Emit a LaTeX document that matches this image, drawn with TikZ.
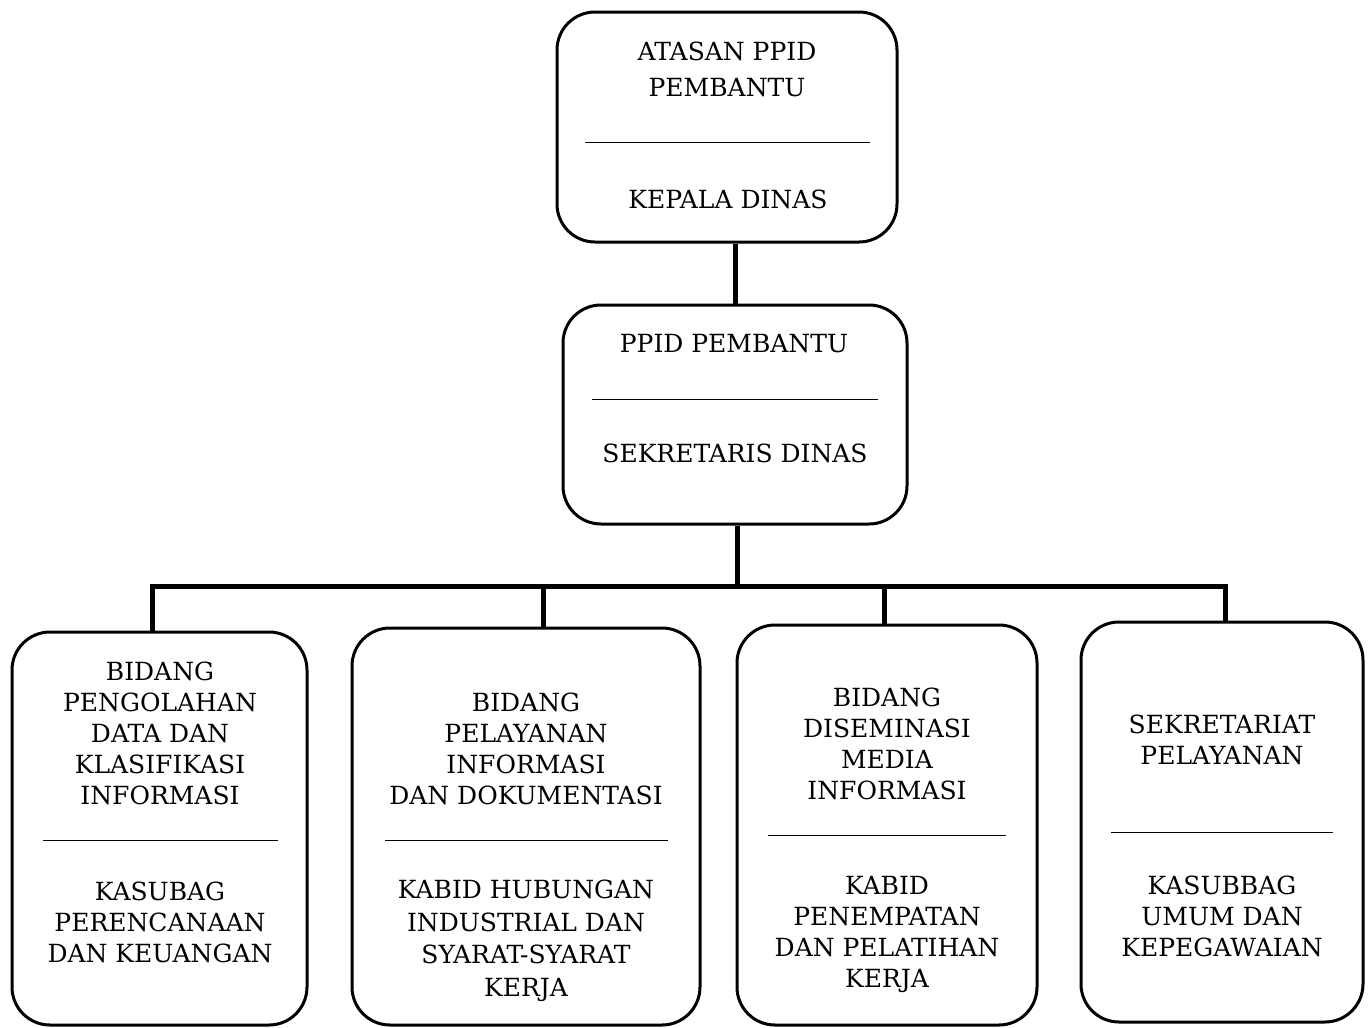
\documentclass[tikz,border=0pt]{standalone}
\usepackage{fontspec}
\setmainfont{DejaVu Serif}
\begin{document}
\begin{tikzpicture}[x=1pt,y=-1pt,
  box/.style={draw, line width=3pt, rounded corners=38pt, inner sep=0pt},
  lbl/.style={align=center, inner sep=0pt, font=\fontsize{25}{31}\selectfont},
  sep/.style={line width=0.8pt},
  conn/.style={line width=5pt}]
\useasboundingbox (0,0) rectangle (1371,1028);
% boxes
\node[box, minimum width=340pt, minimum height=230pt] (top) at (727,127) {};
\node[box, minimum width=344pt, minimum height=219pt] (mid) at (735,414.5) {};
\node[box, minimum width=295pt, minimum height=393pt] (b1) at (159.5,828.5) {};
\node[box, minimum width=348pt, minimum height=397pt] (b2) at (526,826.5) {};
\node[box, minimum width=300pt, minimum height=400pt] (b3) at (887,825) {};
\node[box, minimum width=282pt, minimum height=400pt] (b4) at (1222,822) {};
% texts
\node[lbl, font=\fontsize{25}{36}\selectfont] (t1) at (727,69) {ATASAN PPID\\PEMBANTU};
\node[lbl] (t2) at (728,199) {KEPALA DINAS};
\node[lbl] (m1) at (734,344) {PPID PEMBANTU};
\node[lbl] (m2) at (735,453) {SEKRETARIS DINAS};
\node[lbl] (a1) at (160,733) {BIDANG\\PENGOLAHAN\\DATA DAN\\KLASIFIKASI\\INFORMASI};
\node[lbl] (a2) at (160,922) {KASUBAG\\PERENCANAAN\\DAN KEUANGAN};
\node[lbl] (c1) at (526,748.5) {BIDANG\\PELAYANAN\\INFORMASI\\DAN DOKUMENTASI};
\node[lbl, font=\fontsize{25}{32.5}\selectfont] (c2) at (526,941) {KABID HUBUNGAN\\INDUSTRIAL DAN\\SYARAT-SYARAT\\KERJA};
\node[lbl] (d1) at (887,743.5) {BIDANG\\DISEMINASI\\MEDIA\\INFORMASI};
\node[lbl] (d2) at (887,934.5) {KABID\\PENEMPATAN\\DAN PELATIHAN\\KERJA};
\node[lbl] (e1) at (1222,739.5) {SEKRETARIAT\\PELAYANAN};
\node[lbl] (e2) at (1222,916.5) {KASUBBAG\\UMUM DAN\\KEPEGAWAIAN};
% separators
\draw[sep] (585,142) -- (870,142);
\draw[sep] (592,399) -- (878,399);
\draw[sep] (43,840) -- (278,840);
\draw[sep] (385,840) -- (668,840);
\draw[sep] (768,835) -- (1006,835);
\draw[sep] (1111,832) -- (1333,832);
% connectors
\coordinate (j) at (737,586);
\coordinate (k1) at (152,586);
\coordinate (k2) at (543,586);
\coordinate (k3) at (884,586);
\coordinate (k4) at (1225,586);
\draw[conn] (mid.north) ++(0,0) -- (mid.north |- top.south);
\draw[conn] (mid.south -| j) -- (j);
\draw[conn] (k1 |- b1.north) -- (k1) -- (k4) -- (k4 |- b4.north);
\draw[conn] (k2 |- b2.north) -- (k2);
\draw[conn] (k3 |- b3.north) -- (k3);
\end{tikzpicture}
\end{document}
